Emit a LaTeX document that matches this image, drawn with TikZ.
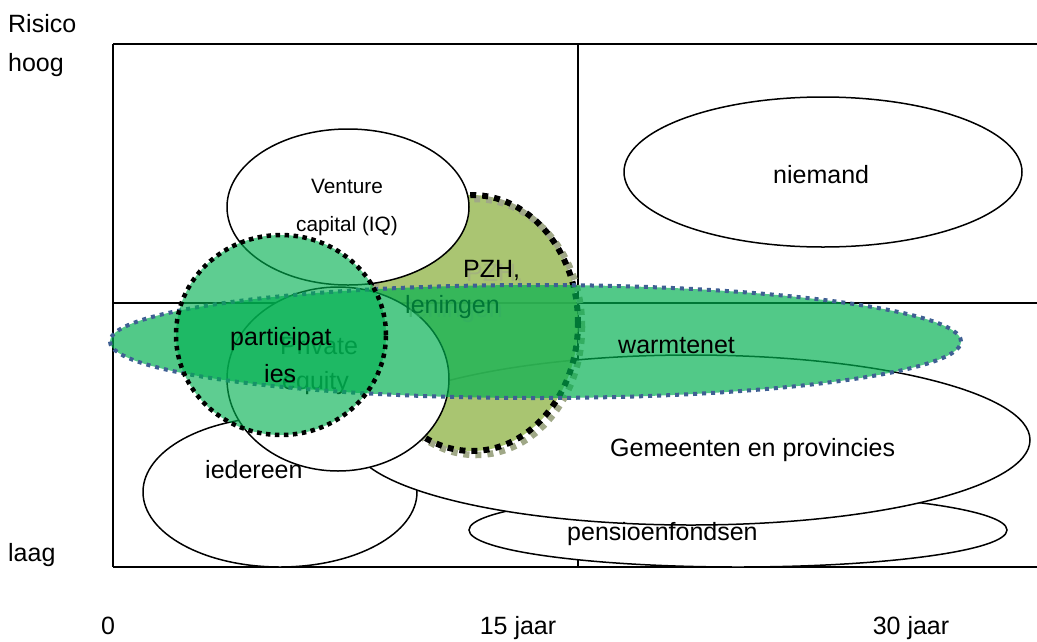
\documentclass[tikz,border=0pt]{standalone}
\usepackage{fontspec}
\setmainfont{Liberation Sans}
\definecolor{warmgreen}{HTML}{00B050}
\definecolor{pzholive}{HTML}{9BBB59}
\definecolor{pzhshadow}{RGB}{160,168,135}
\definecolor{warmblue}{HTML}{3F5F93}
\tikzset{
  gridline/.style={line width=1.4pt, draw=black},
  whiteell/.style={draw=black, line width=1.5pt, fill=white},
  lbl/.style={anchor=base west, inner sep=0pt, font=\fontsize{25}{30}\selectfont},
  clbl/.style={anchor=base, inner sep=0pt, font=\fontsize{25}{30}\selectfont},
  smalllbl/.style={anchor=base, inner sep=0pt, font=\fontsize{20.8}{25}\selectfont},
  ghost/.style={text=pzhshadow, text opacity=0.6},
  pzhdots/.style={draw=black, line width=6pt, dash pattern=on 6pt off 6pt},
  pzhshadowdots/.style={draw=pzhshadow, line width=6.5pt, dash pattern=on 6pt off 6pt},
  warmdots/.style={draw=warmblue, line width=4pt, dash pattern=on 4pt off 5pt},
  partdots/.style={draw=black, line width=4.5pt, dash pattern=on 4.5pt off 4.5pt},
}
\begin{document}
\begin{tikzpicture}[x=1pt,y=-1pt]
\useasboundingbox (0,0) rectangle (1037,641);
% grid
\coordinate (tl) at (113,44);
\coordinate (tr) at (1037,44);
\coordinate (bl) at (113,567);
\coordinate (br) at (1037,567);
\coordinate (ml) at (113,303);
\coordinate (mr) at (1037,303);
\coordinate (mt) at (578,44);
\coordinate (mb) at (578,567);
\draw[gridline] (tl) -- (tr);
\draw[gridline] (bl) -- (br);
\draw[gridline] (tl) -- (bl);
\draw[gridline] (ml) -- (mr);
\draw[gridline] (mt) -- (mb);
% niemand
\path[whiteell] (823,172) ellipse [x radius=199pt, y radius=75pt];
% pensioenfondsen
\path[whiteell] (738,530) ellipse [x radius=269pt, y radius=37pt];
% iedereen
\path[whiteell] (280,492) ellipse [x radius=137pt, y radius=75pt];
% gemeenten
\path[whiteell] (691,440) ellipse [x radius=339pt, y radius=85pt];
% PZH
\path[fill=pzholive, fill opacity=0.85] (472,323) ellipse [x radius=106pt, y radius=128pt];
\path[pzhshadowdots] (476,327) ellipse [x radius=106pt, y radius=128pt];
\path[pzhdots] (472,323) ellipse [x radius=106pt, y radius=128pt];
\node[lbl, ghost] (pzhg) at (466,281) {PZH,};
\node[lbl] (pzh) at (463,277) {PZH,};
% venture capital
\path[whiteell] (348,207) ellipse [x radius=121pt, y radius=78pt];
% private equity
\path[whiteell] (338,379) ellipse [x radius=111pt, y radius=92pt];
\node[lbl] (private) at (280,354) {Private};
\node[lbl] (equity) at (282,389) {equity};
\node[lbl, ghost] (leng) at (408,317) {leningen};
\node[lbl] (len) at (405,313) {leningen};
% warmtenet
\path[fill=warmgreen, fill opacity=0.68] (535.5,341.5) ellipse [x radius=425.5pt, y radius=56.5pt];
\path[warmdots] (535.5,341.5) ellipse [x radius=425.5pt, y radius=56.5pt];
% participaties
\path[fill=warmgreen, fill opacity=0.63] (281,335) ellipse [x radius=105pt, y radius=100pt];
\path[partdots] (281,335) ellipse [x radius=105pt, y radius=100pt];
% labels
\node[smalllbl] (venture) at (347,193) {Venture};
\node[smalllbl] (capital) at (347,231) {capital (IQ)};
\node[lbl] (niemand) at (773,183) {niemand};
\node[lbl] (warmtenet) at (618,353) {warmtenet};
\node[lbl] (gemeenten) at (610,456) {Gemeenten en provincies};
\node[lbl] (pensioen) at (567,540) {pensioenfondsen};
\node[lbl] (iedereen) at (205,478) {iedereen};
\node[lbl] (particip) at (230,345) {participat};
\node[lbl] (ies) at (264,382) {ies};
\node[lbl] (risico) at (8,32) {Risico};
\node[lbl] (hoog) at (8,71) {hoog};
\node[lbl] (laag) at (8,561) {laag};
\node[clbl] (t0) at (108,634) {0};
\node[clbl] (t15) at (518,634) {15 jaar};
\node[clbl] (t30) at (911,634) {30 jaar};
\end{tikzpicture}
\end{document}
